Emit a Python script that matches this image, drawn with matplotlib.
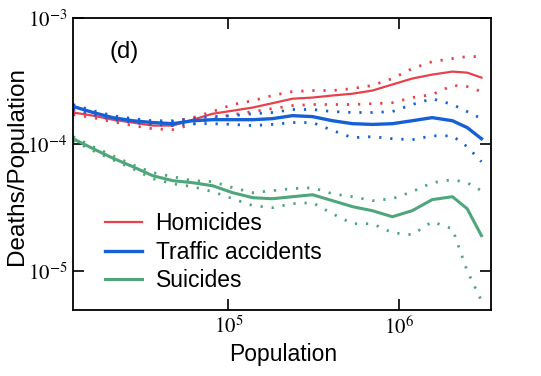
import matplotlib
matplotlib.use("Agg")
import matplotlib.pyplot as plt

plt.rcParams['font.family'] = ['Liberation Sans', 'DejaVu Sans']
plt.rcParams['mathtext.fontset'] = 'stix'

# Population (x) values shared by all curves
population = [1.23e4, 1.61e4, 2.10e4, 2.75e4, 3.60e4, 4.72e4, 6.18e4, 8.09e4,
              1.06e5, 1.39e5, 1.81e5, 2.37e5, 3.11e5, 4.07e5, 5.33e5, 6.97e5,
              9.12e5, 1.19e6, 1.56e6, 2.05e6, 2.50e6, 3.03e6]

# Deaths/Population, in units of 1e-4
homicides = [1.79, 1.69, 1.57, 1.49, 1.41, 1.41, 1.57, 1.75, 1.85, 1.96, 2.12,
             2.30, 2.35, 2.44, 2.52, 2.67, 2.98, 3.32, 3.57, 3.77, 3.70, 3.38]
homicides_hi = [1.85, 1.75, 1.63, 1.54, 1.46, 1.51, 1.63, 1.82, 2.07, 2.22, 2.44,
                2.62, 2.67, 2.67, 2.77, 2.93, 3.32, 3.98, 4.52, 4.78, 4.96, 4.96]
homicides_lo = [1.72, 1.63, 1.51, 1.41, 1.33, 1.31, 1.44, 1.60, 1.72, 1.82, 1.92,
                2.03, 2.07, 2.07, 2.07, 2.10, 2.14, 2.35, 2.48, 2.93, 2.87, 2.62]

traffic = [2.00, 1.79, 1.63, 1.54, 1.49, 1.46, 1.54, 1.57, 1.57, 1.57, 1.60,
           1.69, 1.66, 1.54, 1.46, 1.44, 1.46, 1.54, 1.63, 1.54, 1.36, 1.11]
traffic_hi = [2.07, 1.85, 1.69, 1.60, 1.54, 1.54, 1.60, 1.66, 1.69, 1.75, 1.79,
              1.89, 1.89, 1.82, 1.79, 1.79, 1.82, 2.07, 2.30, 2.07, 1.82, 1.60]
traffic_lo = [1.92, 1.72, 1.57, 1.49, 1.44, 1.41, 1.46, 1.46, 1.44, 1.41, 1.44,
              1.49, 1.49, 1.29, 1.13, 1.153, 1.11, 1.09, 1.17, 1.17, 0.96, 0.73]

suicides = [1.11, 0.926, 0.78, 0.667, 0.566, 0.517, 0.498, 0.471, 0.415, 0.379, 0.372,
            0.386, 0.40, 0.359, 0.322, 0.299, 0.268, 0.299, 0.366, 0.386, 0.310, 0.190]
suicides_hi = [1.153, 0.96, 0.815, 0.692, 0.598, 0.556, 0.517, 0.508, 0.455, 0.415, 0.431,
               0.447, 0.455, 0.407, 0.386, 0.359, 0.372, 0.423, 0.498, 0.527, 0.498, 0.431]
suicides_lo = [1.072, 0.893, 0.758, 0.643, 0.536, 0.489, 0.463, 0.423, 0.372, 0.328, 0.316,
               0.340, 0.346, 0.283, 0.236, 0.236, 0.200, 0.193, 0.245, 0.215, 0.100, 0.058]

labels = ["Homicides", "Traffic accidents", "Suicides"]
colors = ["#e8414b", "#1660d6", "#4ea67a"]
widths = [1.6, 2.4, 2.2]

xticks = [1e5, 1e6]
xticklabels = ["$10^5$", "$10^6$"]
yticks = [1e-3, 1e-4, 1e-5]
yticklabels = ["$10^{-3}$", "$10^{-4}$", "$10^{-5}$"]

fig = plt.figure(figsize=(5.41, 3.76), dpi=100)
ax = fig.add_axes([0.135, 0.1755, 0.7727, 0.7765])

series = [(homicides, homicides_hi, homicides_lo),
          (traffic, traffic_hi, traffic_lo),
          (suicides, suicides_hi, suicides_lo)]

for (mid, hi, lo), lab, col, lw in zip(series, labels, colors, widths):
    ax.plot(population, [v * 1e-4 for v in mid], color=col, lw=lw, label=lab)
    # dotted upper / lower bands
    for band in (hi, lo):
        ax.plot(population, [v * 1e-4 for v in band], color=col, lw=2.0,
                linestyle=(0, (0.8, 3.2)))

ax.set_xscale('log')
ax.set_yscale('log')
ax.set_xlim(1.23e4, 3.45e6)
ax.set_ylim(4.9e-6, 1e-3)

ax.set_xticks(xticks)
ax.set_xticklabels(xticklabels)
ax.set_yticks(yticks)
ax.set_yticklabels(yticklabels)
ax.minorticks_off()
ax.tick_params(which='major', direction='in', length=8, width=1.2,
               top=True, right=True, labelsize=15, pad=4)
for s in ax.spines.values():
    s.set_linewidth(1.3)

ax.text(0.088, 0.885, "(d)", transform=ax.transAxes, fontsize=17,
        ha='left', va='center')

fig.text(283 / 541, 1 - 354 / 376, "Population", fontsize=16.5,
         ha='center', va='center')
fig.text(17 / 541, 1 - 166 / 376, "Deaths/Population", fontsize=17.5,
         rotation=90, ha='center', va='center')

ax.legend(loc='upper left', bbox_to_anchor=(0.055, 0.366), frameon=False,
          fontsize=16.5, handlelength=1.6, handletextpad=0.6,
          labelspacing=0.235, borderaxespad=0)

fig.savefig("out.png", dpi=100)
